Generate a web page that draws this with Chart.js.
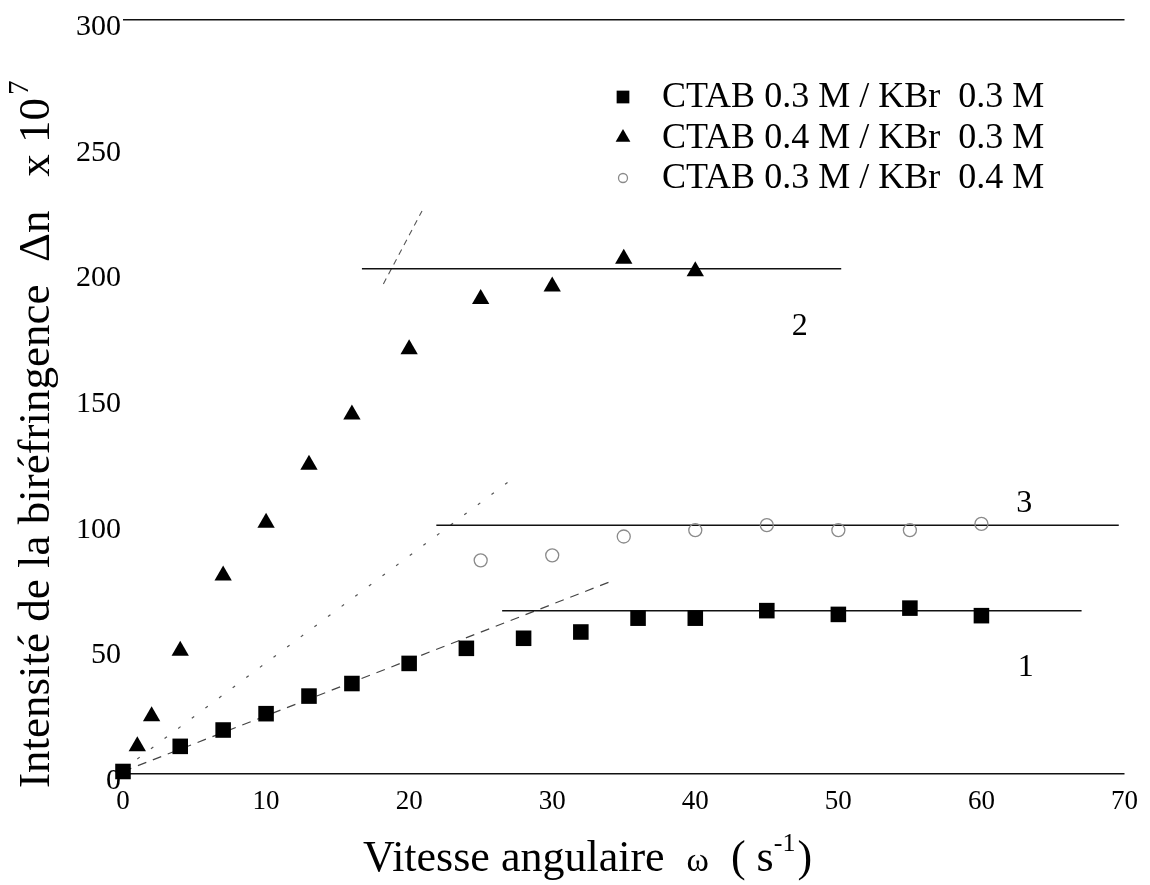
<!DOCTYPE html>
<html lang="fr">
<head>
<meta charset="utf-8">
<title>Biréfringence en fonction de la vitesse angulaire</title>
<script src="https://cdn.jsdelivr.net/npm/chart.js@4.4.1/dist/chart.umd.min.js"></script>
<style>
  html, body { margin: 0; padding: 0; background: #fff; }
  .chart-box { position: relative; width: 1150px; height: 885px; }
</style>
</head>
<body>
<div class="chart-box"><canvas id="birefChart"></canvas></div>
<script>
// Séries mesurées (omega en s-1, delta n x 10^7)
const omega1 = [0, 4, 7, 10, 13, 16, 20, 24, 28, 32, 36, 40, 45, 50, 55, 60];
const dn1 = [1, 11, 17.5, 24, 31, 36, 44, 50, 54, 56.5, 62, 62, 65, 63.5, 66, 63];

const omega2 = [1, 2, 4, 7, 10, 13, 16, 20, 25, 30, 35, 40];
const dn2 = [11, 23, 49, 79, 100, 123, 143, 169, 189, 194, 205, 200];

const omega3 = [25, 30, 35, 40, 45, 50, 55, 60];
const dn3 = [85, 87, 94.5, 97, 99, 97, 97, 99.5];

const seriesNames = ['CTAB 0.3 M / KBr  0.3 M', 'CTAB 0.4 M / KBr  0.3 M', 'CTAB 0.3 M / KBr  0.4 M'];

// Droites tracées à la main (plateaux et pentes initiales)
const plateauX1 = [26.5, 67], plateauY1 = [65, 65];
const slopeX1 = [0, 34], slopeY1 = [1, 76.4];
const plateauX2 = [16.7, 50.2], plateauY2 = [201, 201];
const slopeX2 = [18.2, 20.9], slopeY2 = [195, 224];
const plateauX3 = [21.9, 69.6], plateauY3 = [99, 99];
const slopeX3 = [1, 27], slopeY3 = [6, 116.5];

// Numéros des courbes
const curveNames = ['1', '2', '3'];
const curveLabelX = [63.1, 47.3, 63];
const curveLabelY = [42.5, 178, 107.5];

// Axes
const xMin = 0, xMax = 70, xStep = 10;
const yMin = 0, yMax = 300, yStep = 50;

const FONT = '"Liberation Serif", "Times New Roman", serif';

document.addEventListener("DOMContentLoaded", function() {
    const chartElement = document.getElementById('birefChart');
    if (!chartElement) return;

    const toPoints = (xs, ys) => xs.map((x, i) => ({ x: x, y: ys[i] }));
    const legendMarkerSize = [9, 8.5, 4.5];

    // légende, titres des axes et numéros des courbes
    const extrasPlugin = {
        id: 'extras',
        afterDraw(chart) {
            const ctx = chart.ctx;
            const area = chart.chartArea;
            const sx = chart.scales.x;
            const sy = chart.scales.y;
            ctx.save();
            ctx.fillStyle = '#000';

            ctx.font = '32px ' + FONT;
            ctx.textAlign = 'center';
            ctx.textBaseline = 'middle';
            curveNames.forEach(function(name, i) {
                ctx.fillText(name, sx.getPixelForValue(curveLabelX[i]), sy.getPixelForValue(curveLabelY[i]));
            });

            // légende
            ctx.font = '36px ' + FONT;
            ctx.textAlign = 'left';
            chart.data.datasets.slice(0, 3).forEach(function(ds, i) {
                const y = area.top + 77 + i * 40.5;
                const x = area.left + 500;
                ctx.fillStyle = ds.backgroundColor;
                ctx.strokeStyle = ds.borderColor;
                ctx.lineWidth = ds.borderWidth;
                Chart.helpers.drawPoint(ctx, {
                    pointStyle: ds.pointStyle,
                    radius: legendMarkerSize[i],
                    rotation: 0,
                    borderWidth: ds.borderWidth
                }, x, y);
                ctx.fillStyle = '#000';
                ctx.fillText(ds.label, x + 39, y + 1);
            });

            // titre de l'axe Y
            ctx.save();
            ctx.translate(area.left - 74, area.bottom + 14);
            ctx.rotate(-Math.PI / 2);
            ctx.textBaseline = 'alphabetic';
            ctx.font = '45px ' + FONT;
            const yTitle = 'Intensité de la biréfringence  \u0394n   x 10';
            ctx.fillText(yTitle, 0, 0);
            const yw = ctx.measureText(yTitle).width;
            ctx.font = '29px ' + FONT;
            ctx.fillText('7', yw + 3, -21);
            ctx.restore();

            // titre de l'axe X
            ctx.textBaseline = 'alphabetic';
            let cx = area.left + 240;
            const by = area.bottom + 97;
            const parts = [
                ['Vitesse angulaire  ', 44, 0],
                ['\u03C9', 34, 0],
                ['  ( s', 44, 0],
                ['-1', 26, -20],
                [')', 44, 0]
            ];
            parts.forEach(function(p) {
                ctx.font = p[1] + 'px ' + FONT;
                ctx.fillText(p[0], cx, by + p[2]);
                cx += ctx.measureText(p[0]).width + (p[2] ? 2 : 0);
            });

            ctx.restore();
        }
    };

    const fitLine = (xs, ys, color, dash, width) => ({
        data: toPoints(xs, ys),
        showLine: true,
        pointRadius: 0,
        borderColor: color,
        borderWidth: width,
        borderDash: dash,
        fill: false
    });

    new Chart(chartElement.getContext('2d'), {
        type: 'scatter',
        data: {
            datasets: [{
                label: seriesNames[0],
                data: toPoints(omega1, dn1),
                pointStyle: 'rect',
                pointRadius: 11,
                backgroundColor: '#000',
                borderColor: '#000',
                borderWidth: 0,
                clip: false
            }, {
                label: seriesNames[1],
                data: toPoints(omega2, dn2),
                pointStyle: 'triangle',
                pointRadius: 10,
                backgroundColor: '#000',
                borderColor: '#000',
                borderWidth: 0,
                clip: false
            }, {
                label: seriesNames[2],
                data: toPoints(omega3, dn3),
                pointStyle: 'circle',
                pointRadius: 6.5,
                backgroundColor: 'rgba(0, 0, 0, 0)',
                borderColor: '#8a8a8a',
                borderWidth: 1.3,
                clip: false
            },
            fitLine(plateauX1, plateauY1, '#111', [], 1.5),
            fitLine(slopeX1, slopeY1, '#444', [9, 7], 1.2),
            fitLine(plateauX2, plateauY2, '#111', [], 1.5),
            fitLine(slopeX2, slopeY2, '#555', [6, 5], 1.1),
            fitLine(plateauX3, plateauY3, '#111', [], 1.5),
            fitLine(slopeX3, slopeY3, '#555', [3, 14], 1.2)
            ]
        },
        options: {
            responsive: true,
            maintainAspectRatio: false,
            animation: false,
            events: [],
            layout: {
                padding: { top: 20, right: 25, bottom: 0, left: 0 }
            },
            plugins: {
                legend: { display: false },
                tooltip: { enabled: false }
            },
            scales: {
                x: {
                    type: 'linear',
                    min: xMin,
                    max: xMax,
                    afterFit: function(scale) { scale.height = 111; },
                    grid: { display: false, drawTicks: false },
                    border: { display: false },
                    ticks: {
                        stepSize: xStep,
                        padding: 12,
                        color: '#000',
                        font: { family: FONT, size: 27 }
                    }
                },
                y: {
                    type: 'linear',
                    min: yMin,
                    max: yMax,
                    afterFit: function(scale) { scale.width = 123; },
                    grid: {
                        drawTicks: false,
                        lineWidth: 1.4,
                        color: function(c) {
                            return (c.tick && (c.tick.value === yMin || c.tick.value === yMax)) ? '#111' : 'rgba(0,0,0,0)';
                        }
                    },
                    border: { display: false },
                    ticks: {
                        stepSize: yStep,
                        padding: 2,
                        labelOffset: 7,
                        color: '#000',
                        font: { family: FONT, size: 30 }
                    }
                }
            }
        },
        plugins: [extrasPlugin]
    });
});
</script>
</body>
</html>
